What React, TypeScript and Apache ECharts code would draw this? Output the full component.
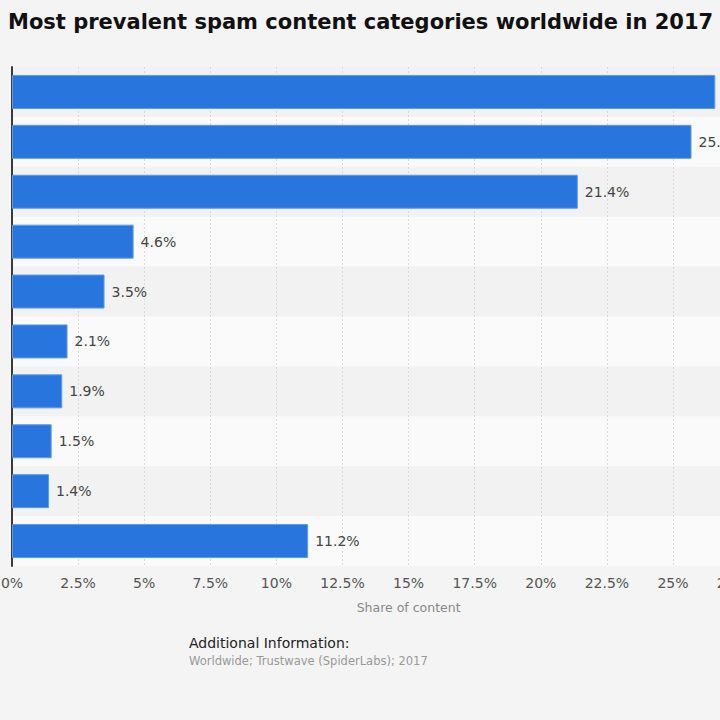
import React, { useEffect, useRef } from "react";
import * as echarts from "echarts";

// Spam content categories, ranked top to bottom
const categories = [
  "Category A",
  "Category B",
  "Category C",
  "Category D",
  "Category E",
  "Category F",
  "Category G",
  "Category H",
  "Category I",
  "Other",
];
// Share of spam content, in percent
const shares = [26.6, 25.7, 21.4, 4.6, 3.5, 2.1, 1.9, 1.5, 1.4, 11.2];
// Horizontal axis range and tick step (percent)
const axisMin = 0;
const axisMax = 30;
const axisStep = 2.5;

const titleText = "Most prevalent spam content categories worldwide in 2017";
const axisName = "Share of content";
const infoHeading = "Additional Information:";
const infoText = "Worldwide; Trustwave (SpiderLabs); 2017";

const FONT = "'DejaVu Sans', 'Noto Sans', sans-serif";
// the chart canvas is wider than the frame and shifted left
const SHIFT = 100;

export default function App() {
  const ref = useRef<HTMLDivElement>(null);

  useEffect(() => {
    if (!ref.current) return;
    const chart = echarts.init(ref.current, undefined, { renderer: "svg" });
    const pxPerPct = 26.44;
    chart.setOption({
      animation: false,
      backgroundColor: "#f4f4f4",
      textStyle: { fontFamily: FONT },
      title: [
        {
          text: titleText,
          left: SHIFT + 8,
          top: 11,
          padding: 0,
          textStyle: { fontFamily: FONT, fontSize: 21, fontWeight: "bold", color: "#111" },
        },
        {
          text: infoHeading,
          left: SHIFT + 189,
          top: 636,
          padding: 0,
          textStyle: { fontFamily: FONT, fontSize: 14, fontWeight: "normal", color: "#222" },
        },
        {
          text: infoText,
          left: SHIFT + 189,
          top: 655,
          padding: 0,
          textStyle: { fontFamily: FONT, fontSize: 11.5, fontWeight: "normal", color: "#999" },
        },
      ],
      grid: {
        left: SHIFT + 12,
        top: 67,
        height: 499,
        width: (axisMax - axisMin) * pxPerPct,
        containLabel: false,
      },
      xAxis: {
        type: "value",
        min: axisMin,
        max: axisMax,
        interval: axisStep,
        name: axisName,
        nameLocation: "middle",
        nameGap: 35,
        nameTextStyle: { fontFamily: FONT, fontSize: 12.5, color: "#888" },
        axisLine: { show: false },
        axisTick: { show: false },
        axisLabel: {
          fontFamily: FONT,
          fontSize: 14,
          color: "#555",
          margin: 10,
          formatter: (v: number) => `${v}%`,
        },
        splitLine: { show: true, lineStyle: { color: "#d9d9d9", type: [2, 2], width: 1 } },
      },
      yAxis: {
        type: "category",
        inverse: true,
        data: categories,
        axisLabel: { show: false },
        axisTick: { show: false },
        axisLine: { show: true, lineStyle: { color: "#3a3a3a", width: 2 } },
        splitLine: { show: false },
        splitArea: { show: true, areaStyle: { color: ["#f2f2f2", "#fafafa"] } },
      },
      series: [
        {
          type: "bar",
          data: shares,
          barWidth: 34,
          itemStyle: { color: "#2876dd", borderColor: "#5c9be8", borderWidth: 1 },
          label: {
            show: true,
            position: "right",
            distance: 7,
            fontFamily: FONT,
            fontSize: 14,
            color: "#444",
            formatter: (p: any) => `${p.value}%`,
          },
        },
      ],
    });
    return () => chart.dispose();
  }, []);

  return (
    <div
      style={{
        position: "absolute",
        left: 0,
        top: 0,
        width: 720,
        height: 720,
        overflow: "hidden",
        background: "#f4f4f4",
      }}
    >
      <div
        ref={ref}
        style={{ position: "absolute", left: -SHIFT, top: 0, width: 1000, height: 720 }}
      />
    </div>
  );
}
